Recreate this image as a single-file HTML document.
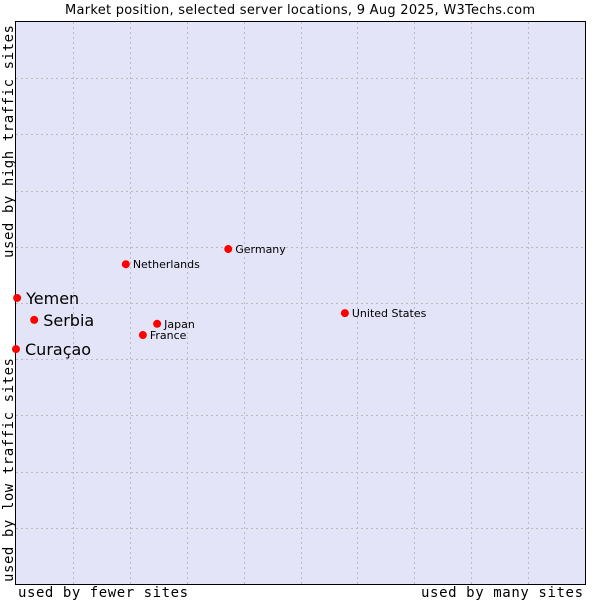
<!DOCTYPE html>
<html><head><meta charset="utf-8"><style>
body{margin:0;background:#fff;}
svg text{font-family:"DejaVu Sans","Liberation Sans",sans-serif;}
.mono{font-family:"DejaVu Sans Mono","Liberation Mono",monospace;}
</style></head><body>
<svg width="600" height="600">
<text x="300" y="14" text-anchor="middle" font-size="13" textLength="470" fill="#000">Market position, selected server locations, 9 Aug 2025, W3Techs.com</text>
<rect x="15.5" y="21.5" width="570" height="563" fill="#e4e4f8" stroke="none"/>
<g id="grid"></g>
<rect x="15.5" y="21.5" width="570" height="563" fill="none" stroke="#000"/>
<g id="pts"></g>
<text class="mono" x="18" y="597" font-size="14" textLength="170">used by fewer sites</text>
<text class="mono" x="421" y="597" font-size="14" textLength="162">used by many sites</text>
<text class="mono" transform="translate(13,258) rotate(-90)" font-size="14" textLength="233">used by high traffic sites</text>
<text class="mono" transform="translate(13,582) rotate(-90)" font-size="14" textLength="224">used by low traffic sites</text>
</svg>
<script>
const names=["Yemen","Serbia","Curaçao","Netherlands","Germany","Japan","France","United States"];
const xVals=[0.2,3.2,0,19.3,37.3,24.8,22.3,57.8];
const yVals=[50.9,47,41.8,56.9,59.6,46.3,44.3,48.2];
const highlighted=[true,true,true,false,false,false,false,false];
const L=16,R=585,T=22,B=584;
const sx=v=>L+v/100*(R-L), sy=v=>B-v/100*(B-T);
const NS="http://www.w3.org/2000/svg";
const g=document.getElementById('grid');
for(let i=1;i<10;i++){
 const x=Math.round(L+i*(R-L)/10)+0.5, y=Math.round(T+i*(B-T)/10)+0.5;
 const a=document.createElementNS(NS,'line');
 a.setAttribute('x1',x);a.setAttribute('x2',x);a.setAttribute('y1',T);a.setAttribute('y2',B);
 a.setAttribute('stroke','#bbb');a.setAttribute('stroke-dasharray','2,3');
 
 
 g.appendChild(a);
 const b=document.createElementNS(NS,'line');
 b.setAttribute('y1',y);b.setAttribute('y2',y);b.setAttribute('x1',L);b.setAttribute('x2',R);
 b.setAttribute('stroke','#bbb');b.setAttribute('stroke-dasharray','2,3');
 
 
 g.appendChild(b);
}
const p=document.getElementById('pts');
names.forEach((n,i)=>{
 const x=sx(xVals[i]),y=sy(yVals[i]);
 const c=document.createElementNS(NS,'circle');
 c.setAttribute('cx',x);c.setAttribute('cy',y);c.setAttribute('r',4);c.setAttribute('fill','#f00');
 
 
 p.appendChild(c);
 const t=document.createElementNS(NS,'text');
 const big=highlighted[i];
 t.setAttribute('x',x+(big?9:7));t.setAttribute('y',y+(big?6:4));
 t.setAttribute('font-size',big?16:11);
 t.textContent=n;
 
 
 p.appendChild(t);
});
</script>
</body></html>
